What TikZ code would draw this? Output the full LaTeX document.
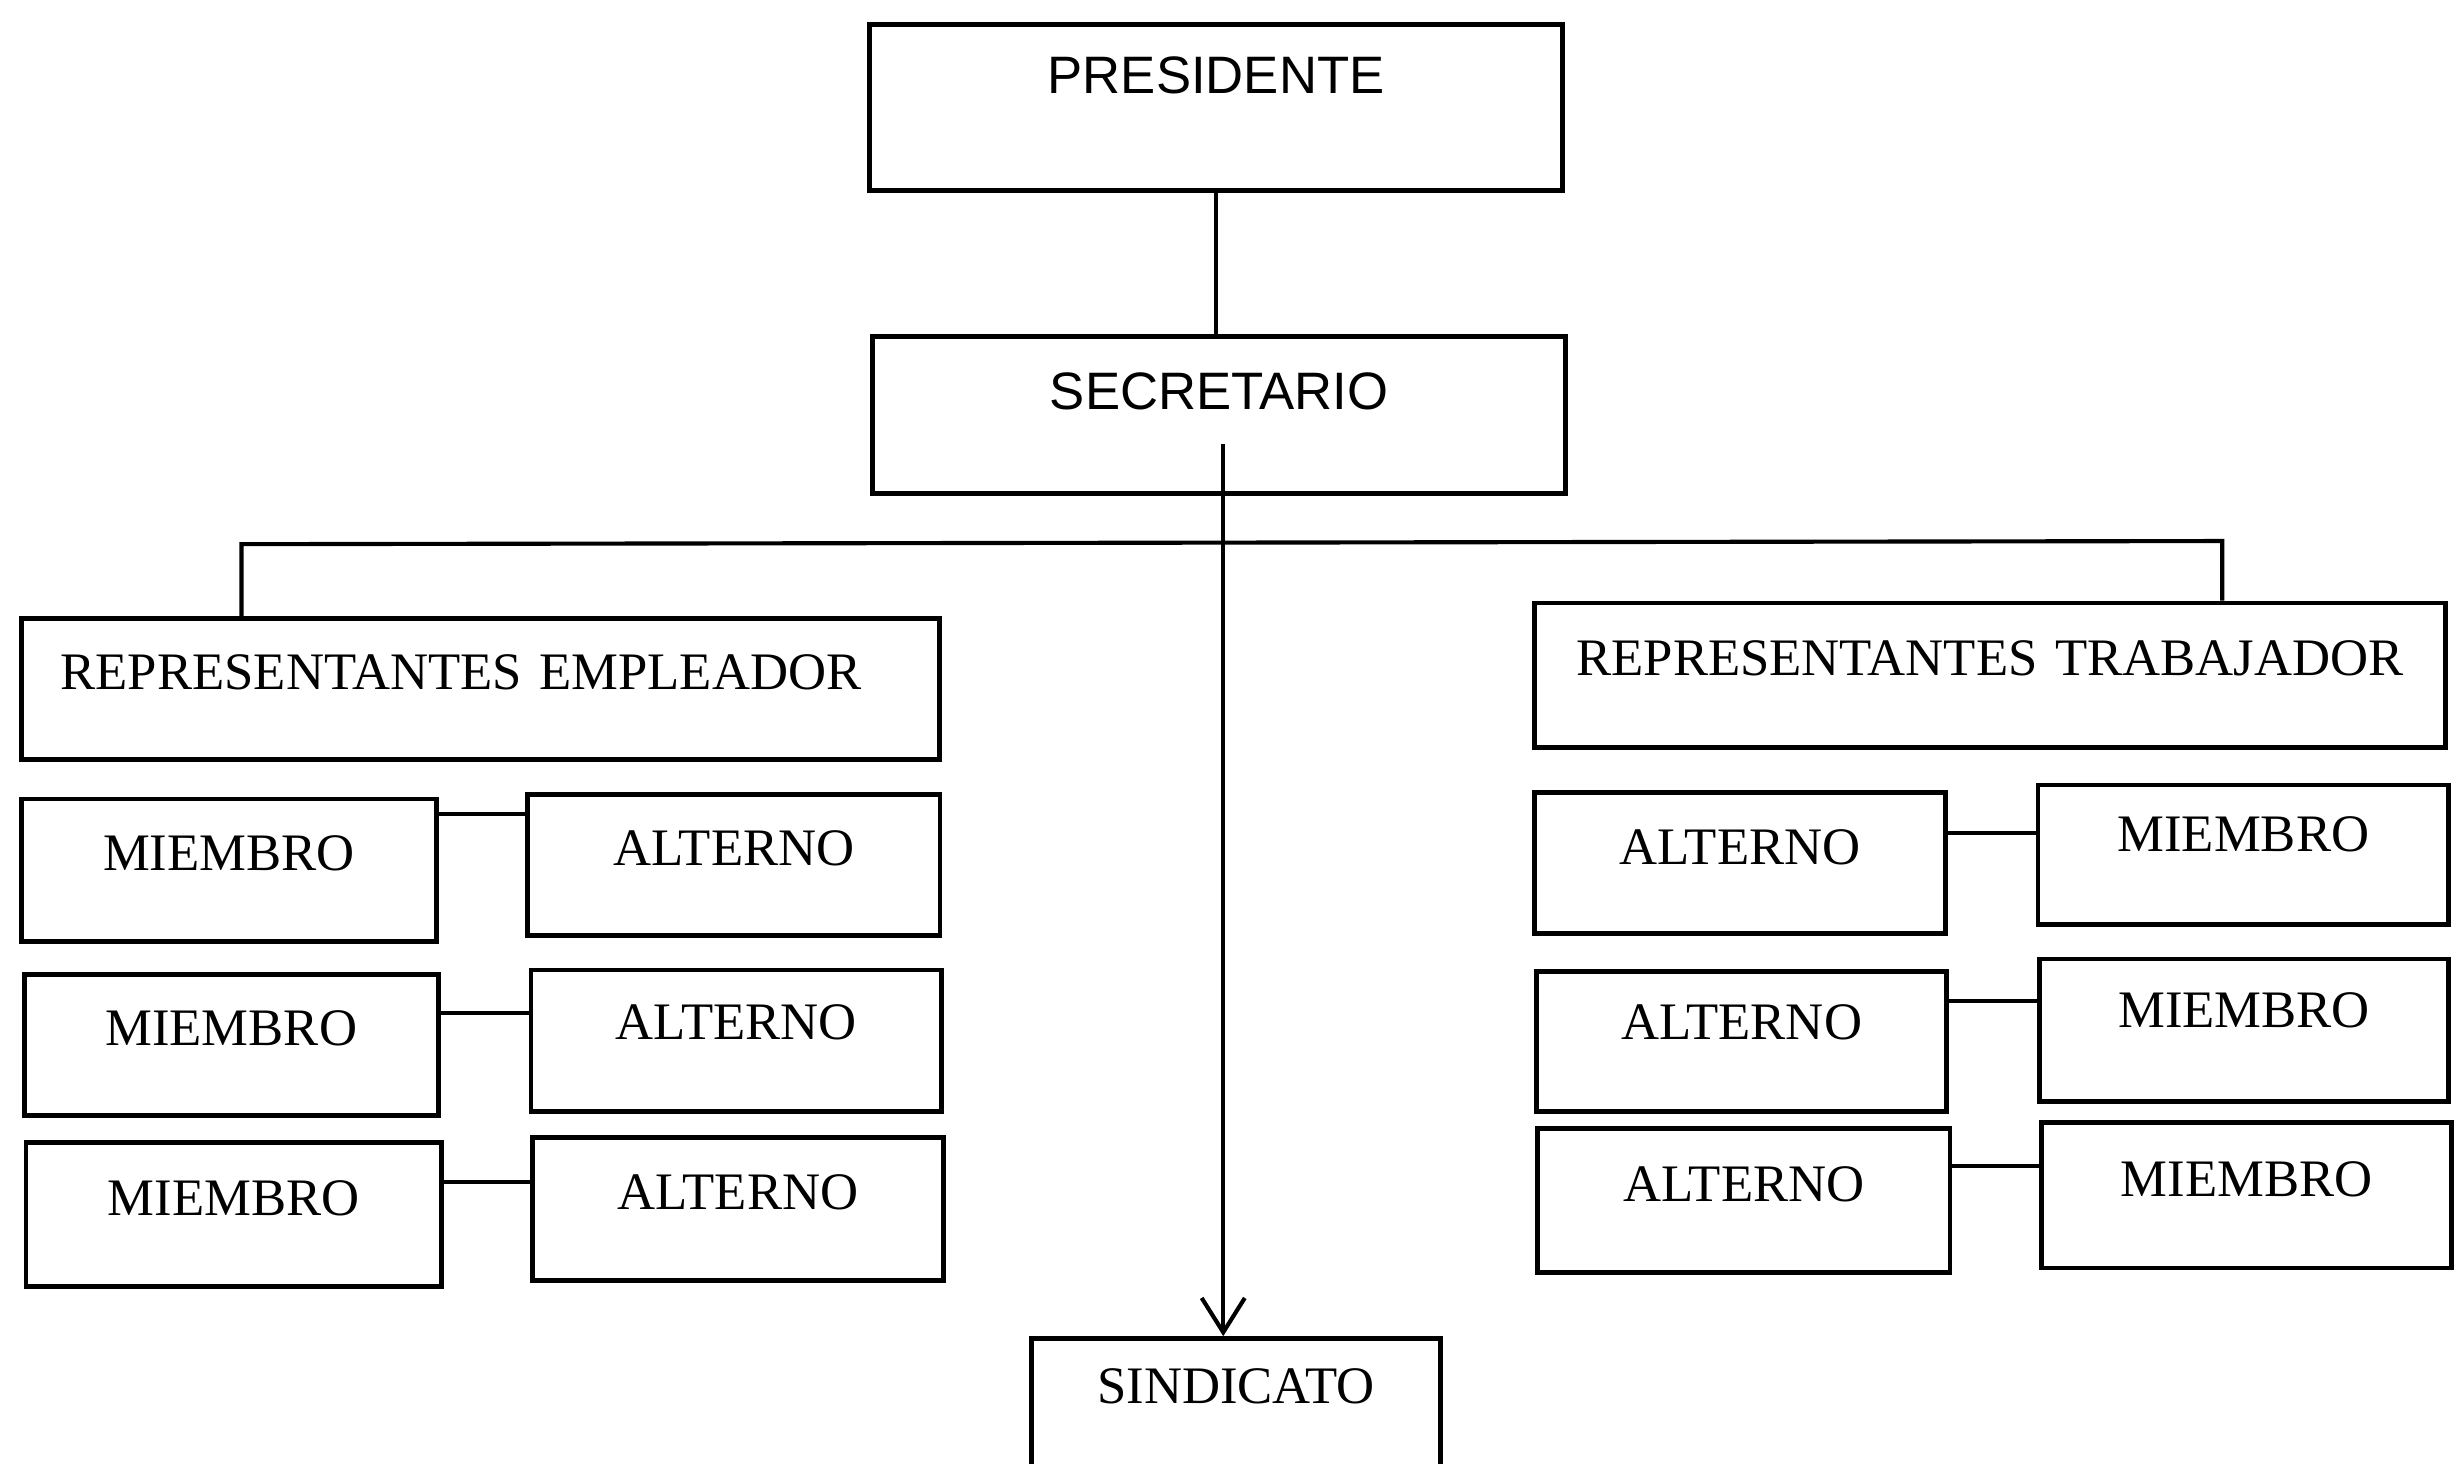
\documentclass[tikz,border=0pt]{standalone}
\usepackage{fontspec}
\setmainfont{Liberation Serif}
\newfontfamily\arialf{Liberation Sans}
\usetikzlibrary{arrows.meta,calc}
\tikzset{
  obox/.style={draw, line width=1.4pt, inner sep=0pt, align=center},
  serifbox/.style={font=\fontsize{15.3}{18}\selectfont},
  sansbox/.style={font=\arialf\fontsize{15.3}{18}\selectfont},
  conn/.style={line width=1.2pt}
}
\newcommand\obox[8]{%
  \pgfmathsetmacro\bxw{(#4-#2)*0.45524}%
  \pgfmathsetmacro\bxh{(#6-#3)*0.45524+5.2}%
  \pgfmathsetmacro\bxd{(#5-#6)*0.45524-5.2}%
  \node[obox,#7,text width=\bxw pt,minimum width=\bxw pt,text height=\bxh pt,text depth=\bxd pt,anchor=north west] (#1) at (#2,#3) {#8};%
}
\begin{document}
\begin{tikzpicture}[x=0.016cm,y=-0.016cm]
\useasboundingbox (0,0) rectangle (1568,933);
\clip (0,0) rectangle (1568,933);
\fill[white] (0,0) rectangle (1568,933);
% top
\obox{pres}{553}{14}{995}{120}{47}{sansbox}{PRESIDENTE}
\obox{sec}{555}{213}{997}{313}{248}{sansbox}{SECRETARIO}
\obox{sind}{656}{852}{917}{990}{882}{serifbox}{SINDICATO}
% representatives
\obox{re}{12}{393}{598}{483}{427}{serifbox}{\hspace*{-0.4cm}REPRESENTANTES EMPLEADOR}
\obox{rt}{977}{383}{1558}{475}{418}{serifbox}{REPRESENTANTES TRABAJADOR}
% left rows
\obox{lm1}{12}{508}{277}{599}{542}{serifbox}{MIEMBRO}
\obox{la1}{335}{505}{598}{595}{539}{serifbox}{ALTERNO}
\obox{lm2}{14}{620}{278}{710}{654}{serifbox}{MIEMBRO}
\obox{la2}{337}{617}{599}{707}{650}{serifbox}{ALTERNO}
\obox{lm3}{15}{727}{280}{819}{762}{serifbox}{MIEMBRO}
\obox{la3}{338}{724}{600}{815}{758}{serifbox}{ALTERNO}
% right rows
\obox{ra1}{977}{504}{1239}{594}{538}{serifbox}{ALTERNO}
\obox{rm1}{1298}{499}{1560}{588}{530}{serifbox}{MIEMBRO}
\obox{ra2}{978}{618}{1240}{707}{650}{serifbox}{ALTERNO}
\obox{rm2}{1299}{610}{1560}{701}{642}{serifbox}{MIEMBRO}
\obox{ra3}{979}{718}{1242}{810}{753}{serifbox}{ALTERNO}
\obox{rm3}{1300}{714}{1562}{807}{750}{serifbox}{MIEMBRO}
% connectors
\draw[conn] (pres.south) -- (pres.south |- sec.north);
\coordinate (secin) at (780,283);
\draw[conn,-{Straight Barb[length=0.35cm,width=0.44cm,line width=1.2pt]}] (secin) -- (secin |- sind.north);
\coordinate (busL) at (154,347);
\coordinate (busR) at (1417,345);
\draw[conn] (re.north -| busL) -- (busL) -- (busR) -- (rt.north -| busR);
% row links
\path ($(lm1.north east)!0.12!(lm1.south east)$) coordinate (c1)
      ($(lm2.north east)!0.28!(lm2.south east)$) coordinate (c2)
      ($(lm3.north east)!0.28!(lm3.south east)$) coordinate (c3)
      ($(ra1.north east)!0.29!(ra1.south east)$) coordinate (c4)
      ($(ra2.north east)!0.22!(ra2.south east)$) coordinate (c5)
      ($(ra3.north east)!0.27!(ra3.south east)$) coordinate (c6);
\draw[conn] (c1) -- (c1 -| la1.west);
\draw[conn] (c2) -- (c2 -| la2.west);
\draw[conn] (c3) -- (c3 -| la3.west);
\draw[conn] (c4) -- (c4 -| rm1.west);
\draw[conn] (c5) -- (c5 -| rm2.west);
\draw[conn] (c6) -- (c6 -| rm3.west);
\end{tikzpicture}
\end{document}
